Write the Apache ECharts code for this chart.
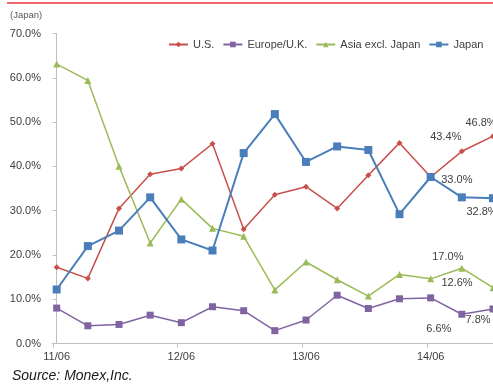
<!DOCTYPE html>
<html>
<head>
<meta charset="utf-8">
<script src="https://cdn.jsdelivr.net/npm/echarts@6/dist/echarts.min.js"></script>
<style>
  html, body { margin: 0; padding: 0; background: #fff; }
  #chart { width: 493px; height: 389px; }
</style>
</head>
<body>
<div id="chart"></div>
<script>
// Quarterly periods (YY/MM), Japanese investor allocation by region (%)
const quarters = ['11/06','11/09','11/12','12/03','12/06','12/09','12/12','13/03',
                  '13/06','13/09','13/12','14/03','14/06','14/09','14/12'];
const tickLabels = ['11/06', '12/06', '13/06', '14/06'];
const yTicks = [0, 10, 20, 30, 40, 50, 60, 70];

const usValues     = [17.2, 14.7, 30.5, 38.2, 39.5, 45.1, 25.8, 33.6, 35.4, 30.5, 38.0, 45.3, 37.6, 43.4, 46.8];
const europeValues = [8.0, 4.0, 4.3, 6.4, 4.7, 8.3, 7.4, 2.9, 5.3, 10.9, 7.9, 10.1, 10.3, 6.6, 7.8];
const asiaValues   = [63.1, 59.4, 40.0, 22.7, 32.6, 26.0, 24.2, 12.1, 18.4, 14.4, 10.7, 15.6, 14.6, 17.0, 12.6];
const japanValues  = [12.2, 22.0, 25.5, 33.0, 23.5, 21.0, 43.0, 51.8, 41.0, 44.5, 43.7, 29.2, 37.6, 33.0, 32.8];

const seriesNames = ['U.S.', 'Europe/U.K.', 'Asia excl. Japan', 'Japan'];
const colors = ['#c8504b', '#8064a2', '#9bbb59', '#4a7ebb'];

// where the value labels of the last two quarters sit, relative to their points
const labelOffsets = {
  'U.S.':             { 13: [-16, -14], 14: [-12, -13] },
  'Europe/U.K.':      { 13: [-23, 15],  14: [-15, 11] },
  'Asia excl. Japan': { 13: [-14, -11], 14: [-36, -5] },
  'Japan':            { 13: [-5, -17],  14: [-11, 14] }
};

function buildData(name, values) {
  return values.map((v, i) => {
    const item = { value: [i, v] };
    const off = labelOffsets[name][i];
    if (off) {
      item.label = {
        show: true,
        position: 'inside',
        offset: off,
        formatter: v.toFixed(1) + '%',
        color: '#404040',
        fontSize: 11,
        fontFamily: 'Liberation Sans'
      };
    }
    return item;
  });
}

const symbols = ['diamond', 'rect', 'triangle', 'rect'];
const symbolSizes = [6, 7, 7, 8];
const lineWidths = [1.5, 1.5, 1.5, 2];
const valueSets = [usValues, europeValues, asiaValues, japanValues];

const chart = echarts.init(document.getElementById('chart'));
chart.setOption({
  animation: false,
  textStyle: { fontFamily: 'Liberation Sans' },
  graphic: [
    { type: 'line', shape: { x1: 7, y1: 3, x2: 493, y2: 3 },
      style: { stroke: '#e8666c', lineWidth: 2 } },
    { type: 'text', left: 10, top: 10,
      style: { text: '(Japan)', fontSize: 9.5, fill: '#595959', fontFamily: 'Liberation Sans' } },
    { type: 'text', left: 12, top: 369,
      style: { text: 'Source: Monex,Inc.', fontSize: 14, fontStyle: 'italic', fill: '#1a1a1a',
               fontFamily: 'Liberation Sans' } }
  ],
  legend: {
    data: seriesNames,
    left: 168,
    top: 39,
    width: 330,
    padding: 0,
    itemWidth: 19,
    itemHeight: 7,
    itemGap: 8,
    textStyle: { fontSize: 11, color: '#404040', fontFamily: 'Liberation Sans' }
  },
  grid: { left: 52, top: 33.5, width: 443, height: 310 },
  xAxis: {
    type: 'value',
    min: -0.15,
    max: 14,
    splitLine: { show: false },
    axisLine: { show: true, lineStyle: { color: '#bfbfbf', width: 1 } },
    axisTick: { show: true, length: 4, lineStyle: { color: '#bfbfbf' },
                customValues: [-0.12, 3.88, 7.88, 11.88] },
    axisLabel: {
      customValues: [0, 4, 8, 12],
      formatter: v => tickLabels[Math.round(v) / 4],
      fontSize: 11, color: '#404040', margin: 8
    }
  },
  yAxis: {
    type: 'value',
    min: 0,
    max: 70,
    interval: 10,
    splitLine: { show: false },
    axisLine: { show: true, lineStyle: { color: '#bfbfbf', width: 1 } },
    axisTick: { show: true, length: 4, lineStyle: { color: '#bfbfbf' } },
    axisLabel: {
      formatter: v => yTicks.includes(v) ? v.toFixed(1) + '%' : '',
      fontSize: 11, color: '#404040', margin: 11
    }
  },
  series: seriesNames.map((name, k) => ({
    name,
    type: 'line',
    data: buildData(name, valueSets[k]),
    symbol: symbols[k],
    symbolSize: symbolSizes[k],
    showAllSymbol: true,
    itemStyle: { color: colors[k] },
    lineStyle: { color: colors[k], width: lineWidths[k] },
    z: 2 + (k === 3 ? 1 : 0)
  }))
});
</script>
</body>
</html>
